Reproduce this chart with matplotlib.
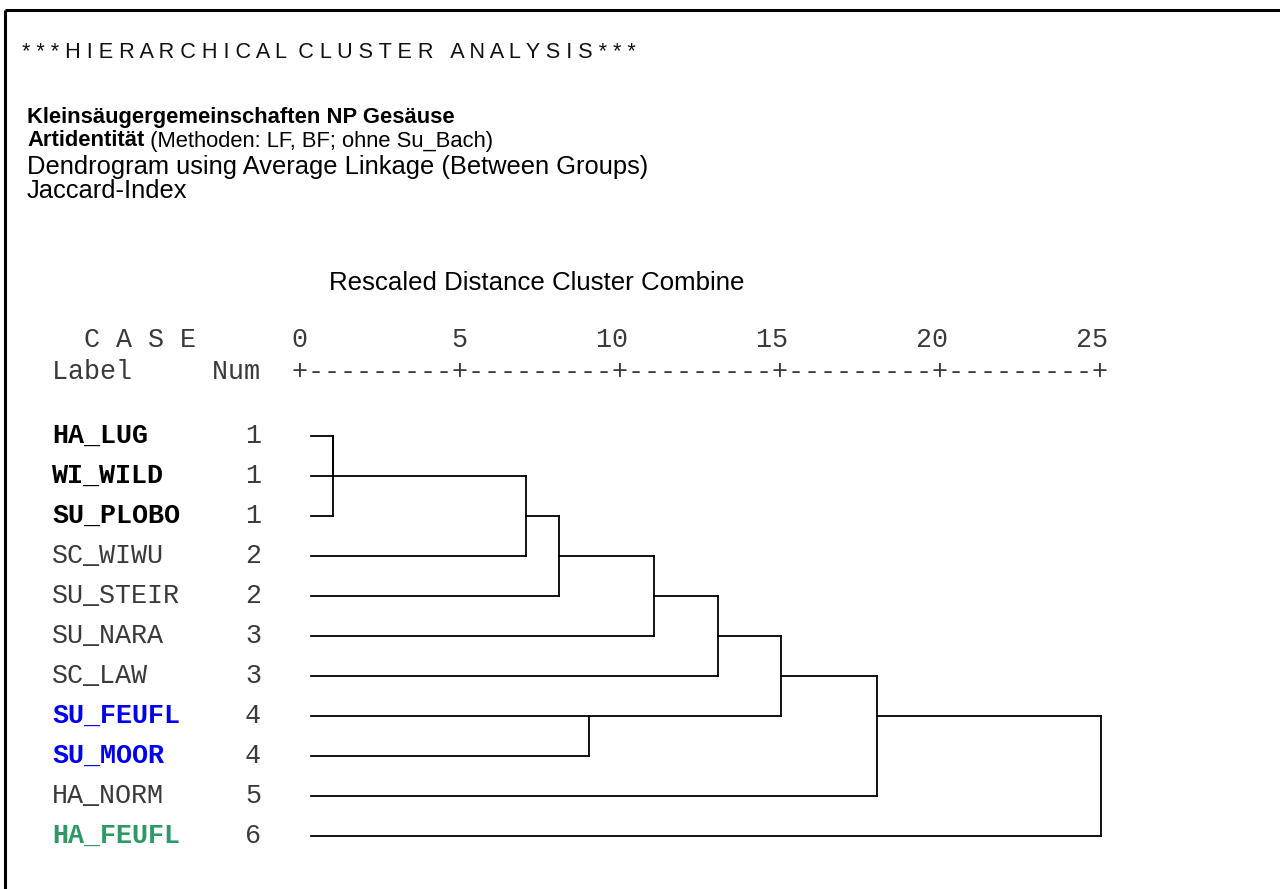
import matplotlib
matplotlib.use("Agg")
import matplotlib.pyplot as plt

# --- data -----------------------------------------------------------------
labels = ["HA_LUG", "WI_WILD", "SU_PLOBO", "SC_WIWU", "SU_STEIR", "SU_NARA",
          "SC_LAW", "SU_FEUFL", "SU_MOOR", "HA_NORM", "HA_FEUFL"]
nums = [1, 1, 1, 2, 2, 3, 3, 4, 4, 5, 6]
label_colors = ["#000000", "#000000", "#000000", "#3a3a3a", "#3a3a3a", "#3a3a3a",
                "#3a3a3a", "#0000ee", "#0000ee", "#3a3a3a", "#2e9966"]
label_bold = [True, True, True, False, False, False, False, True, True, False, True]

# merges: (child a, child b, rescaled distance); leaves 0..10, new clusters 11..
merge_a = [0, 11, 12, 13, 14, 15, 7, 16, 18, 19]
merge_b = [1, 2, 3, 4, 5, 6, 8, 17, 9, 10]
merge_dist = [1.0, 1.0, 7.0, 8.0, 10.95, 12.95, 8.95, 14.9, 17.9, 24.85]

ticks = [0, 5, 10, 15, 20, 25]

# --- layout helpers ----------------------------------------------------------
W, H = 1280, 889
MONO = ["Liberation Mono", "DejaVu Sans Mono"]
SANS = ["Liberation Sans", "DejaVu Sans"]
mono_size = 19.3          # -> ~16.1 px per character at 100 dpi
char_w = 0.6 * mono_size * 100 / 72
x_text = 52               # left edge of the SPSS text block
row0, row_h = 436, 40     # y (px) of first case and row spacing

fig = plt.figure(figsize=(W / 100, H / 100), dpi=100)
bg = fig.add_axes([0, 0, 1, 1])
bg.set_xlim(0, W)
bg.set_ylim(H, 0)
bg.axis("off")

# frame (only top and left edges are visible in the crop)
bg.plot([5, W], [10, 10], color="black", lw=2.2, solid_capstyle="butt")
bg.plot([5, 5], [10, H], color="black", lw=2.2, solid_capstyle="butt")

bg.text(22, 53, "* * * H I E R A R C H I C A L  C L U S T E R   A N A L Y S I S * * *",
        family=SANS, fontsize=15.6, va="center", ha="left", color="#111111")

bg.text(27, 118, "Kleinsäugergemeinschaften NP Gesäuse", family=SANS,
        fontsize=15.8, fontweight="bold", va="center")
t2 = bg.text(27, 141, "Artidentität", family=SANS, fontsize=15.8,
             fontweight="bold", va="center")
bg.annotate(" (Methoden: LF, BF; ohne Su_Bach)", xy=(1, 0), xycoords=t2,
            va="bottom", ha="left", family=SANS, fontsize=15.8)
bg.text(27, 167, "Dendrogram using Average Linkage (Between Groups)", family=SANS,
        fontsize=18.4, va="center")
bg.text(27, 191, "Jaccard-Index", family=SANS, fontsize=18.4, va="center")
bg.text(537, 283, "Rescaled Distance Cluster Combine", family=SANS,
        fontsize=18.6, va="center", ha="center")

# SPSS style header lines in monospace
head1 = "  C A S E      " + str(ticks[0]) + "".join(f"{t:>10}" for t in ticks[1:])
head2 = "Label     Num  " + "+" + "+".join(["-" * 9] * (len(ticks) - 1)) + "+"
bg.text(x_text, 340, head1, family=MONO, fontsize=mono_size, va="center",
        color="#3a3a3a")
bg.text(x_text, 372, head2, family=MONO, fontsize=mono_size, va="center",
        color="#3a3a3a")

for i, (lab, n, c, b) in enumerate(zip(labels, nums, label_colors, label_bold)):
    y = row0 + i * row_h
    bg.text(x_text, y, lab, family=MONO, fontsize=mono_size, va="center",
            color=c, fontweight="bold" if b else "normal")
    bg.text(x_text + 13 * char_w, y, str(n), family=MONO, fontsize=mono_size,
            va="center", ha="right", color="#3a3a3a")

# --- dendrogram --------------------------------------------------------------
x0_px = x_text + 15.5 * char_w          # centre of the first '+'
x25_px = x0_px + 50 * char_w
n = len(labels)
dax = fig.add_axes([x0_px / W, (H - (row0 + (n - 0.5) * row_h)) / H,
                    (x25_px - x0_px) / W, n * row_h / H])
dax.set_xlim(0, 25)
dax.set_ylim(n - 0.5, -0.5)
dax.axis("off")

leaf_start = 0.3
node_y = {i: i for i in range(n)}
node_x = {i: leaf_start for i in range(n)}
for k, (a, b, d) in enumerate(zip(merge_a, merge_b, merge_dist)):
    for ch in (a, b):
        dax.plot([node_x[ch], d], [node_y[ch], node_y[ch]], color="black",
                 lw=1.3, solid_capstyle="projecting", clip_on=False)
    dax.plot([d, d], [node_y[a], node_y[b]], color="black", lw=1.3,
             solid_capstyle="projecting", clip_on=False)
    new = n + k
    node_y[new] = (node_y[a] + node_y[b]) // 2
    node_x[new] = d

fig.savefig("out.png", dpi=100)
